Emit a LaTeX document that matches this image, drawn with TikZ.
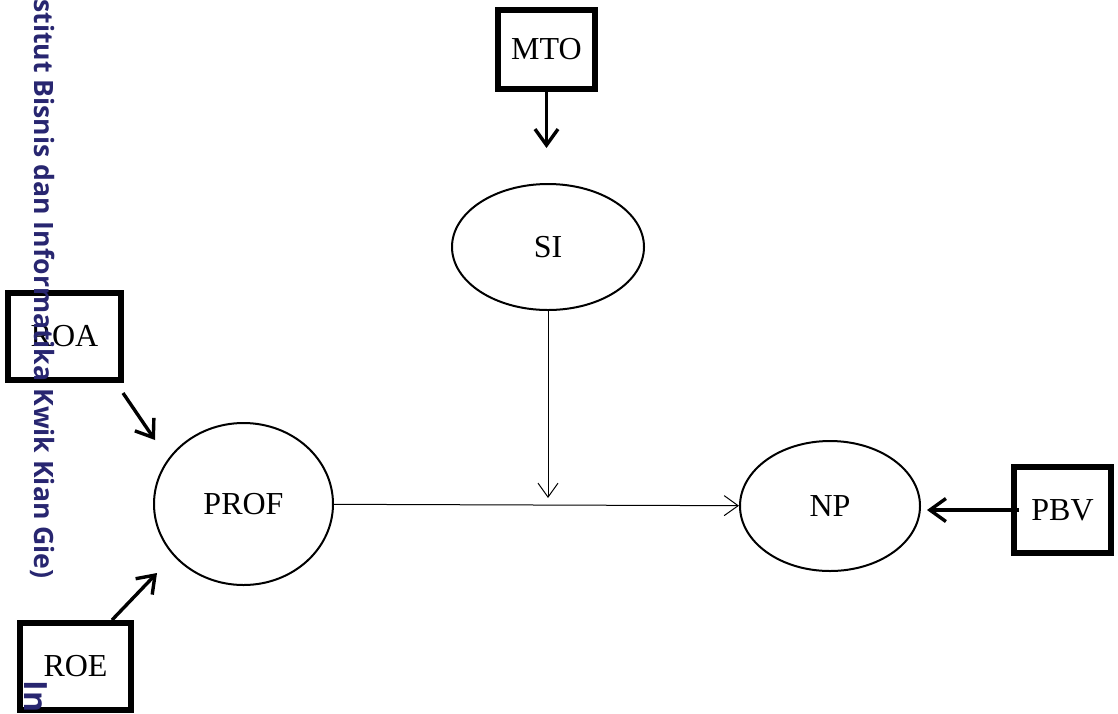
\documentclass[tikz,border=0pt]{standalone}
\usepackage{fontspec}
\setmainfont{Liberation Serif}
\newfontfamily\wmfont{Open Sans}
\usetikzlibrary{arrows.meta,shapes.geometric}
\definecolor{wmblue}{RGB}{40,38,112}

\begin{document}
\begin{tikzpicture}[x=0.5pt, y=-0.5pt,
    varbox/.style={draw, line width=3pt, inner sep=0pt, font=\fontsize{16}{19}\selectfont},
    latent/.style={draw, ellipse, line width=1pt, inner sep=0pt, font=\fontsize{16}{19}\selectfont},
    bigarrow/.style={line width=1.7pt, -{Straight Barb[length=8pt,width=11.5pt]}},
    thinarrow/.style={line width=0.5pt, -{Straight Barb[length=7pt,width=10pt]}}]
    \useasboundingbox (0,0) rectangle (1118,713);

    % indicators and constructs
    \node[varbox, minimum width=48.5pt, minimum height=39.5pt] (mto) at (546.5,49.5) {MTO};
    \node[varbox, minimum width=56.5pt, minimum height=43.5pt] (roa) at (64.5,336.5) {ROA};
    \node[varbox, minimum width=55.5pt, minimum height=43.5pt] (roe) at (75.5,666.5) {ROE};
    \node[varbox, minimum width=48.5pt, minimum height=43pt] (pbv) at (1062.5,510) {PBV};
    \node[latent, minimum width=96pt, minimum height=63pt] (si) at (548,247) {SI};
    \node[latent, minimum width=89.5pt, minimum height=81pt] (prof) at (243.5,504) {PROF};
    \node[latent, minimum width=90pt, minimum height=65pt] (np) at (830,506) {NP};

    \coordinate (mtotip) at (546.5,148);
    \coordinate (join) at (548,498);
    \coordinate (pbvtip) at (927,510);
    \coordinate (roafoot) at (123,393);
    \coordinate (roatip) at (155,440);
    \coordinate (roetop) at (112,620);
    \coordinate (roetip) at (157,573);

    \draw[bigarrow] (mto) -- (mtotip);
    \draw[thinarrow] (si) -- (join);
    \draw[thinarrow] (prof) -- (np);
    \draw[bigarrow, shorten <=-4pt] (pbv) -- (pbvtip);
    \draw[bigarrow] (roafoot) -- (roatip);
    \draw[bigarrow] (roetop) -- (roetip);

    % watermark along the left edge
    \node[rotate=-90, anchor=base west, inner sep=0pt, text=wmblue,
      font=\wmfont\bfseries\fontsize{13.3}{15}\selectfont] (wmark) at (34,-1)
      {stitut Bisnis dan Informatika Kwik Kian Gie)};
    \node[rotate=-90, anchor=base west, inner sep=0pt, text=wmblue,
      font=\wmfont\bfseries\fontsize{16}{19}\selectfont] (wmin) at (25,680) {In};
\end{tikzpicture}
\end{document}
